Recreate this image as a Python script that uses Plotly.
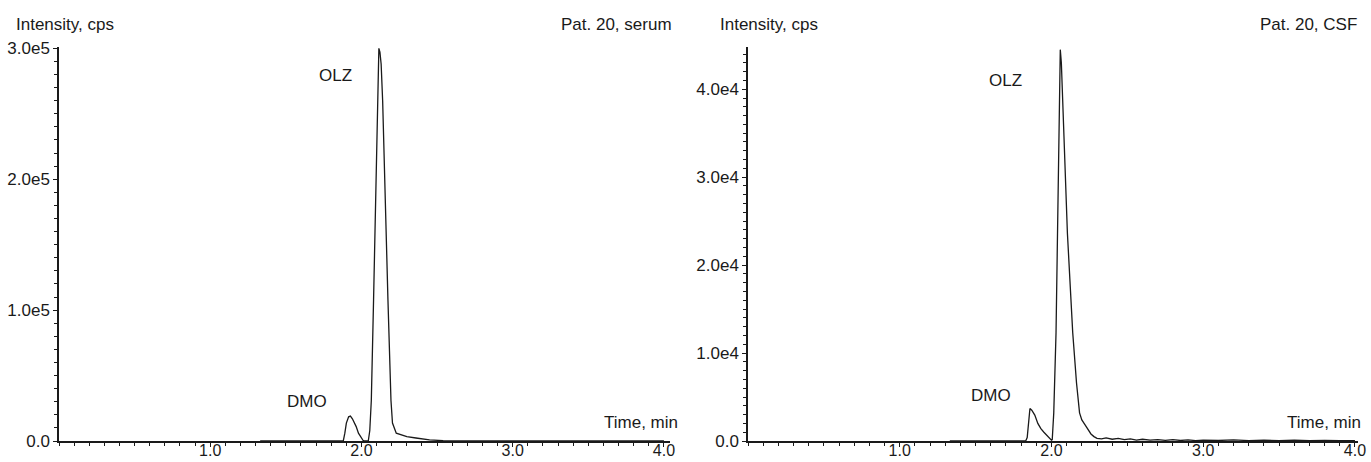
import plotly.graph_objects as go

# ---- data ----
serum_time = [1.33, 1.60, 1.85, 1.88, 1.89, 1.90, 1.915, 1.927, 1.94, 1.965, 1.98, 1.998, 2.01, 2.02,
              2.045, 2.055, 2.065, 2.08, 2.093, 2.104, 2.115, 2.122, 2.13, 2.14, 2.16, 2.175, 2.195,
              2.205, 2.23, 2.30, 2.36, 2.45, 2.54, 2.70, 3.00, 3.50, 4.00]
serum_int = [0, 0, 0, 200, 6000, 13700, 18500, 19000, 17000, 11000, 6000, 2000, 500, 0,
             0, 8000, 31000, 108000, 184000, 260000, 300000, 297000, 288000, 260000, 184000, 108000, 31000,
             13700, 6000, 3300, 2300, 800, 300, 100, 0, 0, 0]

csf_time = [1.33, 1.70, 1.83, 1.84, 1.85, 1.858, 1.87, 1.89, 1.91, 1.93, 1.95, 1.97, 1.98, 1.99, 2.00,
            2.005, 2.015, 2.03, 2.04, 2.05, 2.058, 2.065, 2.08, 2.105, 2.14, 2.165, 2.185, 2.20, 2.23,
            2.26, 2.28, 2.30, 2.33, 2.36, 2.40, 2.44, 2.48, 2.52, 2.56, 2.60, 2.65, 2.70, 2.75, 2.80,
            2.85, 2.90, 2.95, 3.00, 3.10, 3.20, 3.30, 3.40, 3.50, 3.60, 3.70, 3.80, 3.90, 4.00]
csf_int = [0, 0, 0, 400, 2500, 3700, 3500, 2950, 2000, 1400, 1000, 600, 450, 250, 100,
           150, 3200, 12300, 23600, 36000, 44500, 43000, 35000, 23600, 12300, 6600, 3200, 2400, 1600,
           800, 500, 300, 250, 350, 200, 300, 150, 250, 100, 200, 100, 150, 80, 150,
           60, 120, 50, 100, 60, 120, 50, 100, 40, 90, 30, 80, 40, 50]

x_ticks = [1.0, 2.0, 3.0, 4.0]
x_tick_text = ["1.0", "2.0", "3.0", "4.0"]
serum_yticks = [0, 100000, 200000, 300000]
serum_ytext = ["0.0", "1.0e5", "2.0e5", "3.0e5"]
csf_yticks = [0, 10000, 20000, 30000, 40000]
csf_ytext = ["0.0", "1.0e4", "2.0e4", "3.0e4", "4.0e4"]

W, H = 1371, 462
FONT = "Liberation Sans, Arial, sans-serif"
FS = 17
INK = "#1a1a1a"

fig = go.Figure()
fig.add_trace(go.Scatter(x=serum_time, y=serum_int, mode="lines",
                         line=dict(color=INK, width=1.3), xaxis="x", yaxis="y", showlegend=False))
fig.add_trace(go.Scatter(x=csf_time, y=csf_int, mode="lines",
                         line=dict(color=INK, width=1.3), xaxis="x2", yaxis="y2", showlegend=False))

def px(x):
    return x / W

def py(y):
    return 1 - y / H

ydom = [py(441), py(47)]

common_x = dict(showgrid=False, zeroline=False, showline=True, linecolor=INK, linewidth=1.5,
                ticks="outside", ticklen=4, tickcolor=INK, tickwidth=1,
                tickvals=x_ticks, ticktext=x_tick_text, ticklabelstandoff=-10,
                tickfont=dict(family=FONT, size=16, color=INK),
                minor=dict(dtick=0.1, tick0=0, ticks="outside", ticklen=3, tickcolor=INK, tickwidth=1),
                automargin=False, fixedrange=True)
common_y = dict(showgrid=False, zeroline=False, showline=True, linecolor=INK, linewidth=1.5,
                ticks="outside", ticklen=4, tickcolor=INK, tickwidth=1,
                tickfont=dict(family=FONT, size=FS, color=INK),
                automargin=False, fixedrange=True)

fig.update_layout(
    width=W, height=H, margin=dict(l=0, r=0, t=0, b=0),
    paper_bgcolor="white", plot_bgcolor="white",
    font=dict(family=FONT, size=FS, color=INK),
    xaxis=dict(domain=[px(59), px(670)], range=[0, 4.04], anchor="y", **common_x),
    yaxis=dict(domain=ydom, range=[0, 301000], anchor="x", tickvals=serum_yticks, ticktext=serum_ytext,
               minor=dict(dtick=10000, tick0=0, ticks="outside", ticklen=3, tickcolor=INK, tickwidth=1),
               **common_y),
    xaxis2=dict(domain=[px(748), px(1358)], range=[0, 4.02], anchor="y2", **common_x),
    yaxis2=dict(domain=ydom, range=[0, 44800], anchor="x2", tickvals=csf_yticks, ticktext=csf_ytext,
                minor=dict(dtick=1000, tick0=0, ticks="outside", ticklen=3, tickcolor=INK, tickwidth=1),
                **common_y),
)

ann = []
def paper_text(text, x, y, xanchor):
    ann.append(dict(text=text, x=px(x), y=py(y), xref="paper", yref="paper",
                    xanchor=xanchor, yanchor="middle", showarrow=False,
                    font=dict(family=FONT, size=FS, color=INK)))

paper_text("Intensity, cps", 14, 24, "left")
paper_text("Pat. 20, serum", 674, 24, "right")
paper_text("Time, min", 680, 422, "right")
paper_text("Intensity, cps", 718, 24, "left")
paper_text("Pat. 20, CSF", 1359, 24, "right")
paper_text("Time, min", 1363, 422, "right")

def data_text(text, x, y, xr, yr):
    ann.append(dict(text=text, x=x, y=y, xref=xr, yref=yr, xanchor="center", yanchor="middle",
                    showarrow=False, font=dict(family=FONT, size=FS, color=INK)))

data_text("OLZ", 1.83, 279000, "x", "y")
data_text("DMO", 1.64, 30000, "x", "y")
data_text("OLZ", 1.70, 41000, "x2", "y2")
data_text("DMO", 1.60, 5200, "x2", "y2")

fig.update_layout(annotations=ann)
fig.write_html("out.html", config={"displayModeBar": False},
               post_script="document.body.style.margin='0px';document.body.style.overflow='hidden';")
